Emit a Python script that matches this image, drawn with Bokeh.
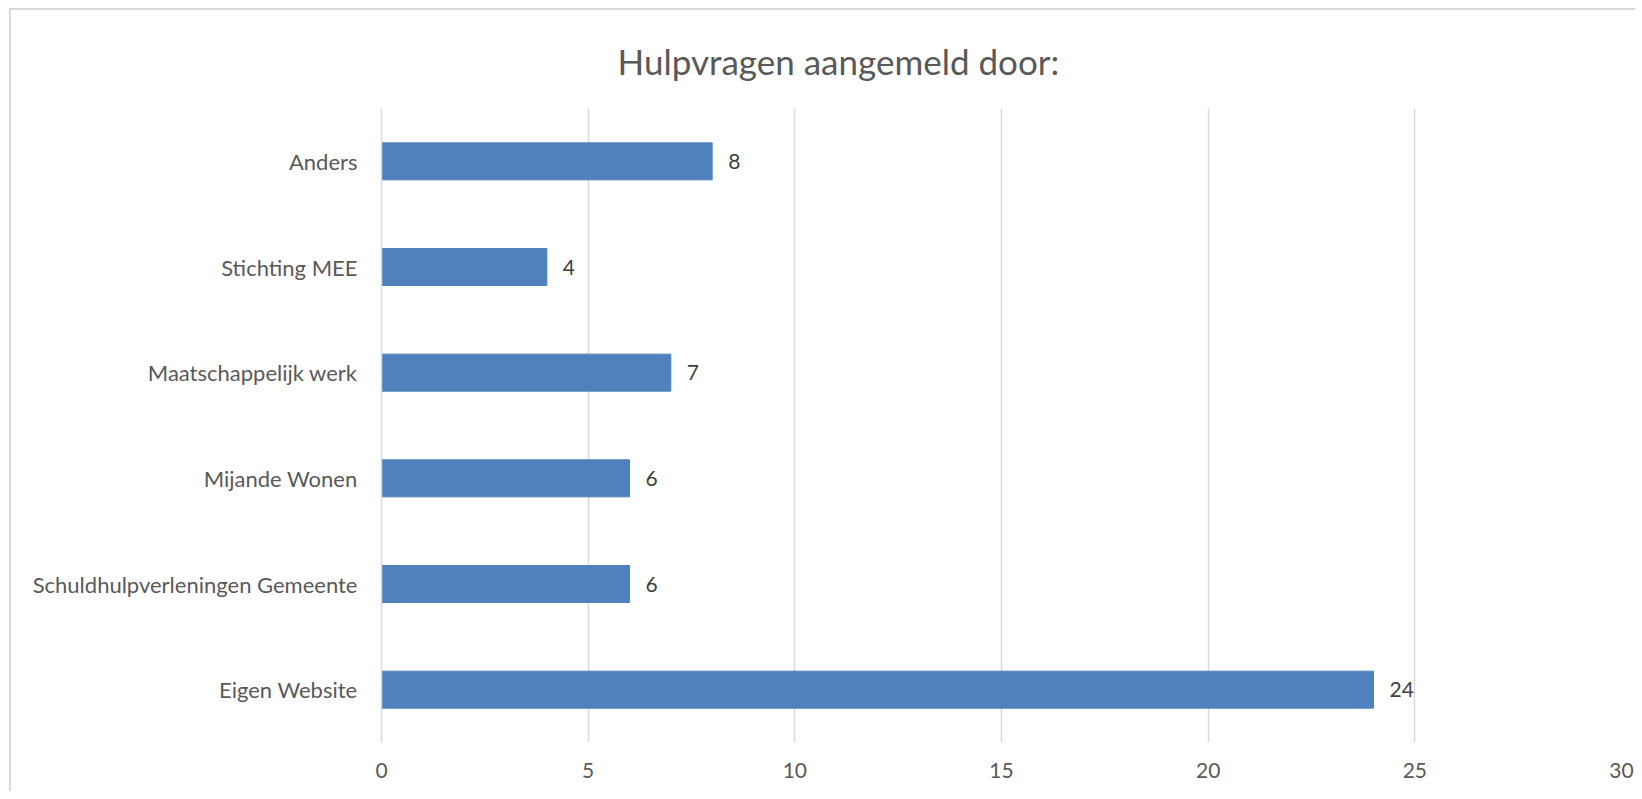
from bokeh.plotting import figure
from bokeh.models import Title, ColumnDataSource
from bokeh.core.properties import value
from bokeh.embed import file_html
from bokeh.resources import INLINE

title_text = "Hulpvragen aangemeld door:"
categories = ["Eigen Website", "Schuldhulpverleningen Gemeente", "Mijande Wonen",
              "Maatschappelijk werk", "Stichting MEE", "Anders"]
counts = [24, 6, 6, 7, 4, 8]
x_ticks = [0, 5, 10, 15, 20, 25, 30]

FONT = "Lato"

p = figure(width=1626, height=783, y_range=categories, x_range=(0, 30),
           output_backend="svg", toolbar_location=None,
           min_border_left=370, min_border_right=16, min_border_top=98, min_border_bottom=51)
p.styles = {"border-left": "2px solid #d9d9d9", "border-top": "2px solid #d9d9d9",
            "margin-left": "9px", "margin-top": "8px"}
p.outline_line_color = None
p.y_range.range_padding = 0

src = ColumnDataSource(dict(cat=categories, val=counts, lab=[str(v) for v in counts]))
p.hbar(y="cat", right="val", left=0, height=0.35, source=src,
       fill_color="#4f81bd", line_color="#4f81bd", line_width=1)
p.text(x="val", y="cat", text="lab", source=src, x_offset=16,
       text_baseline="middle", text_align="left", text_color="#404040",
       text_font=value(FONT), text_font_size="21px")

p.xaxis.ticker = x_ticks
p.xgrid.ticker = x_ticks
p.xgrid.grid_line_color = "#d9d9d9"
p.xgrid.grid_line_width = 1.5
p.ygrid.grid_line_color = None

for ax in (p.xaxis, p.yaxis):
    ax.axis_line_color = None
    ax.major_tick_line_color = None
    ax.minor_tick_line_color = None
    ax.major_tick_out = 0
    ax.minor_tick_out = 0
    ax.major_label_text_font = FONT
    ax.major_label_text_color = "#595959"
p.xaxis.major_label_text_font_size = "21px"
p.yaxis.major_label_text_font_size = "22px"
p.yaxis.axis_line_color = "#d9d9d9"
p.yaxis.axis_line_width = 1.5
p.xaxis.major_label_standoff = 20
p.yaxis.major_label_standoff = 24

p.add_layout(Title(text=title_text, align="left", offset=236, standoff=53,
                   text_font=FONT, text_font_size="35px", text_font_style="normal",
                   text_color="#595959"), "above")

open("out.html", "w").write(file_html(p, INLINE))
